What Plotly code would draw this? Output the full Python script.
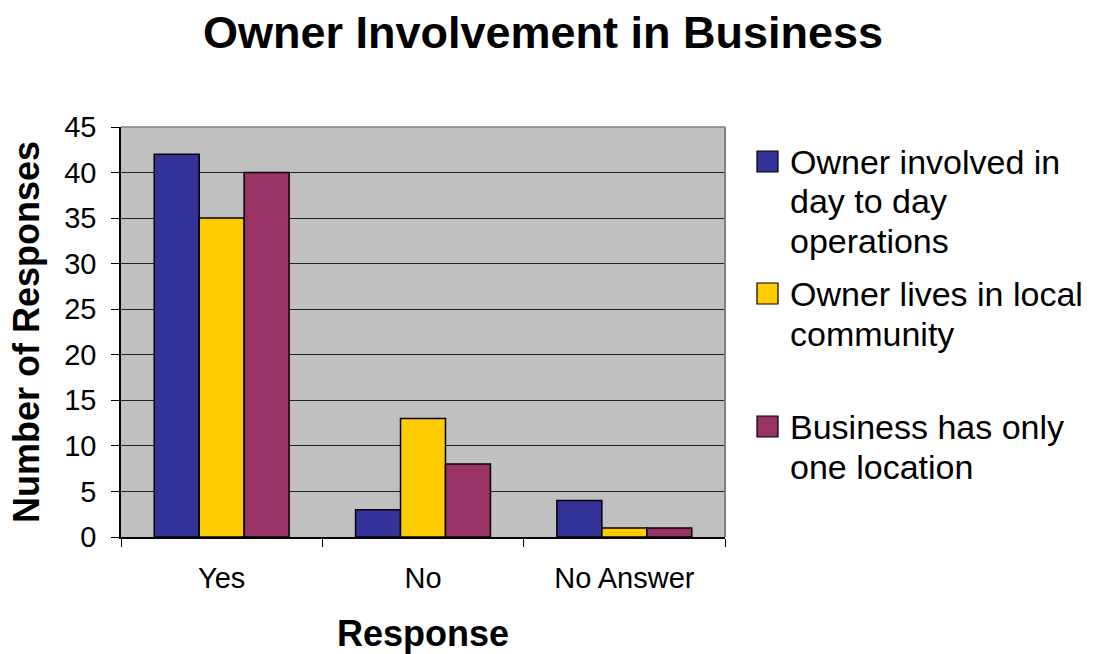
import plotly.graph_objects as go

# Survey responses by answer category
categories = ["Yes", "No", "No Answer"]
series_names = [
    "Owner involved in<br>day to day<br>operations",
    "Owner lives in local<br>community",
    "Business has only<br>one location",
]
involved_day_to_day = [42, 3, 4]
lives_locally = [35, 13, 1]
single_location = [40, 8, 1]
series_values = [involved_day_to_day, lives_locally, single_location]
series_colors = ["#333399", "#FFCC00", "#993366"]

y_ticks = [0, 5, 10, 15, 20, 25, 30, 35, 40, 45]

FONT = "Arial, Liberation Sans, sans-serif"

fig = go.Figure()
for name, vals, color in zip(series_names, series_values, series_colors):
    fig.add_trace(go.Bar(
        x=categories, y=vals, name=name.replace("<br>", " "),
        marker=dict(color=color, line=dict(color="black", width=1.5)),
        showlegend=False,
    ))

W, H = 1099, 654
L, R, T, B = 121, 374, 127, 117

fig.update_layout(
    width=W, height=H,
    margin=dict(l=L, r=R, t=T, b=B, autoexpand=False),
    paper_bgcolor="white",
    plot_bgcolor="#C0C0C0",
    barmode="group",
    bargap=0.33,
    bargroupgap=0,
    font=dict(family=FONT, color="black"),
    title=dict(
        text="<b>Owner Involvement in Business</b>",
        font=dict(size=45, family=FONT, color="black"),
        x=543 / W, xref="container", xanchor="center",
        y=1 - 32 / H, yref="container", yanchor="middle",
    ),
)

fig.update_xaxes(
    type="category",
    tickson="boundaries",
    ticks="outside", ticklen=8, tickcolor="black", tickwidth=1,
    showline=True, linecolor="black", linewidth=1.5,
    tickfont=dict(size=29, family=FONT),
    ticklabelstandoff=14,
    title=dict(text="<b>Response</b>", font=dict(size=36, family=FONT), standoff=28),
    automargin=False,
)
fig.update_yaxes(
    range=[0, 45],
    tickvals=y_ticks,
    ticks="outside", ticklen=8, tickcolor="black", tickwidth=1,
    showline=True, linecolor="black", linewidth=1.5,
    showgrid=True, gridcolor="#222222", gridwidth=1,
    zeroline=False,
    tickfont=dict(size=29, family=FONT),
    ticklabelstandoff=9,
    title=dict(text="<b>Number of Responses</b>", font=dict(size=36, family=FONT), standoff=14),
    automargin=False,
)

# Gray frame on the top and right edges of the plot area
fig.add_shape(type="line", xref="paper", yref="paper", x0=0, x1=1, y0=1, y1=1,
              line=dict(color="#808080", width=1.5))
fig.add_shape(type="line", xref="paper", yref="paper", x0=1, x1=1, y0=0, y1=1,
              line=dict(color="#808080", width=2))

# Legend drawn beside the plot: swatch plus wrapped label lines
plot_w = W - L - R
plot_h = H - T - B

def px_to_paper_x(px):
    return (px - L) / plot_w

def px_to_paper_y(py):
    return 1 - (py - T) / plot_h

item_top = [151, 283, 416]
line_h = 39.5
for top, name, color in zip(item_top, series_names, series_colors):
    fig.add_shape(type="rect", xref="paper", yref="paper",
                  x0=px_to_paper_x(757), x1=px_to_paper_x(778),
                  y0=px_to_paper_y(top), y1=px_to_paper_y(top + 21),
                  fillcolor=color, line=dict(color="black", width=1.2))
    for i, line in enumerate(name.split("<br>")):
        cy = top + 11 + i * line_h
        fig.add_annotation(
            text=line, xref="paper", yref="paper",
            x=px_to_paper_x(788), y=px_to_paper_y(cy),
            xanchor="left", yanchor="middle", showarrow=False,
            font=dict(size=34, family=FONT, color="black"),
        )

fig.write_html("out.html")
